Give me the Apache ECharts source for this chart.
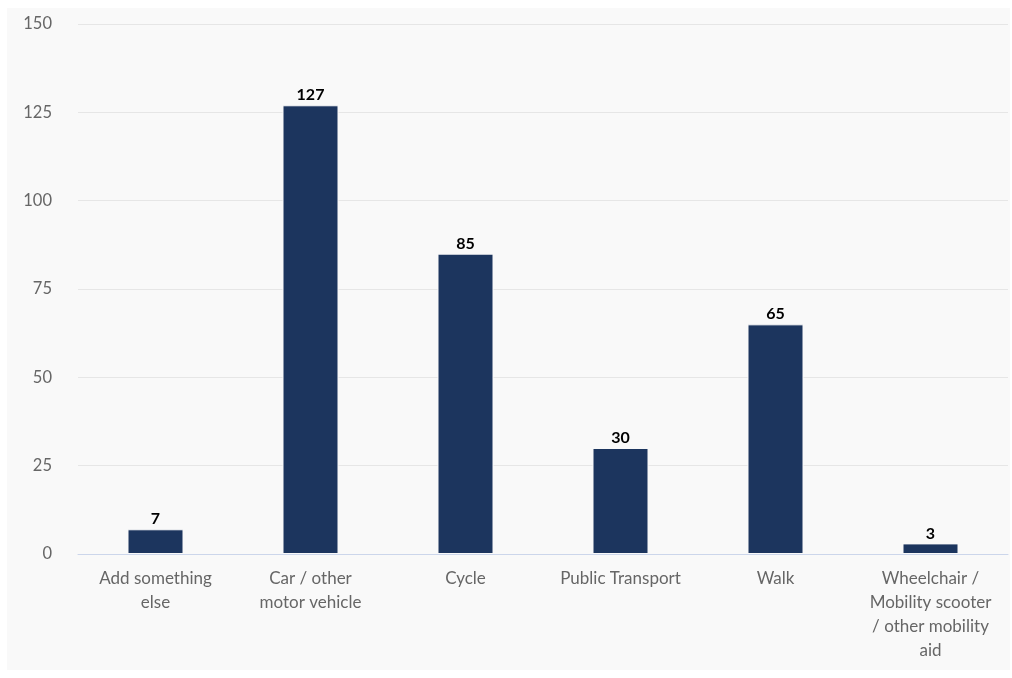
<!DOCTYPE html>
<html>
<head>
<meta charset="utf-8">
<script src="https://cdn.jsdelivr.net/npm/echarts@6/dist/echarts.min.js"></script>
<style>
  html, body { margin: 0; padding: 0; background: #ffffff; }
  #wrap { position: absolute; left: 7px; top: 8px; width: 1003px; height: 662px; background: #f9f9f9; }
  #chart { width: 100%; height: 100%; }
</style>
</head>
<body>
<div id="wrap"><div id="chart"></div></div>
<script>
const categories = ['Add something else', 'Car / other motor vehicle', 'Cycle', 'Public Transport', 'Walk', 'Wheelchair / Mobility scooter / other mobility aid'];
const xTickLabels = ['Add something\nelse', 'Car / other\nmotor vehicle', 'Cycle', 'Public Transport', 'Walk', 'Wheelchair /\nMobility scooter\n/ other mobility\naid'];
const values = [7, 127, 85, 30, 65, 3];
const yTicks = [0, 25, 50, 75, 100, 125, 150];

const FONT = '"Source Sans Pro", Lato, sans-serif';
const chart = echarts.init(document.getElementById('chart'));
chart.setOption({
  backgroundColor: 'transparent',
  animation: false,
  grid: { left: 71, right: 2, top: 16, bottom: 116, containLabel: false },
  xAxis: {
    type: 'category',
    data: categories,
    axisLine: { lineStyle: { color: '#ccd6eb', width: 1 } },
    axisTick: { show: false },
    axisLabel: {
      interval: 0,
      color: '#666666',
      fontFamily: FONT,
      fontSize: 17,
      lineHeight: 24,
      margin: 13,
      formatter: (v, i) => xTickLabels[i]
    }
  },
  yAxis: {
    type: 'value',
    min: yTicks[0],
    max: yTicks[yTicks.length - 1],
    interval: 25,
    axisLine: { show: false },
    axisTick: { show: false },
    splitLine: { lineStyle: { color: '#e6e6e6', width: 1 } },
    axisLabel: { color: '#666666', fontFamily: FONT, fontSize: 16.5, margin: 26 }
  },
  series: [{
    type: 'bar',
    data: values,
    barWidth: 56,
    itemStyle: { color: '#1c355e', borderColor: '#f9f9f9', borderWidth: 1 },
    label: {
      show: true,
      position: 'top',
      distance: 2,
      color: '#000000',
      fontWeight: 'bold',
      fontFamily: FONT,
      fontSize: 16
    }
  }]
});
</script>
</body>
</html>
